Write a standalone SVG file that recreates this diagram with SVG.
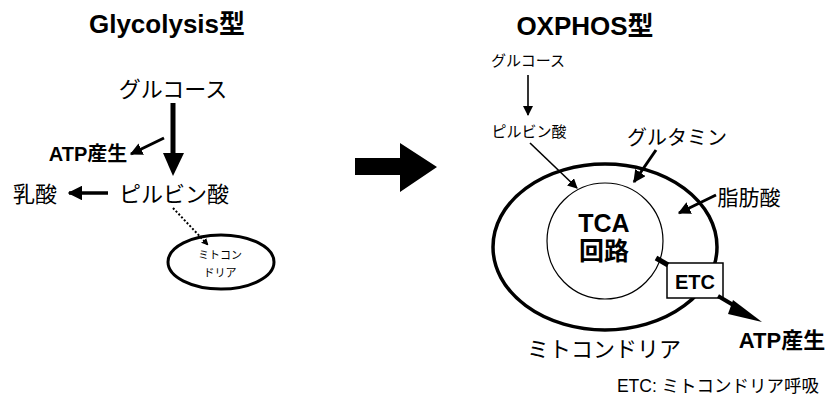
<svg xmlns="http://www.w3.org/2000/svg" width="833" height="397" viewBox="0 0 833 397">
<style>
text{font-family:"Liberation Sans","Noto Sans CJK JP",sans-serif;fill:#000}
.b{font-weight:bold}
.ln{stroke:#000;fill:none}
</style>
<defs>
<marker id="ah" viewBox="0 0 10 10" refX="9" refY="5" markerWidth="4.2" markerHeight="4.2" markerUnits="strokeWidth" orient="auto"><path d="M0,0 L10,5 L0,10 z" fill="#000"/></marker>
<marker id="ahs" viewBox="0 0 10 10" refX="9" refY="5" markerWidth="7" markerHeight="7" markerUnits="userSpaceOnUse" orient="auto"><path d="M0,0 L10,5 L0,10 z" fill="#000"/></marker>
<marker id="ahm" viewBox="0 0 10 10" refX="9" refY="5" markerWidth="10" markerHeight="10" markerUnits="userSpaceOnUse" orient="auto"><path d="M0,0 L10,5 L0,10 z" fill="#000"/></marker>
</defs>
<rect width="833" height="397" fill="#fff"/>

<g id="titles">
<text class="b" x="167" y="33" font-size="26" text-anchor="middle">Glycolysis型</text>
<text class="b" x="585" y="35" font-size="26" text-anchor="middle">OXPHOS型</text>
</g>

<g id="left-glucose"><text x="173" y="97" font-size="22" text-anchor="middle">グルコース</text></g>
<g id="left-atp"><text class="b" x="88" y="161" font-size="20" text-anchor="middle">ATP産生</text></g>
<g id="left-pyruvate"><text x="174" y="202" font-size="22" text-anchor="middle">ピルビン酸</text></g>
<g id="left-lactate"><text x="35" y="202" font-size="22" text-anchor="middle">乳酸</text></g>
<g id="left-mito">
<ellipse cx="221" cy="262" rx="53" ry="27" class="ln" stroke-width="3"/>
<text x="220" y="259" font-size="11" text-anchor="middle">ミトコン</text>
<text x="220" y="277" font-size="11" text-anchor="middle">ドリア</text>
</g>

<g id="mid-arrow"><path d="M355,158 H400 V143 L437,167 L400,192 V175 H355 z" fill="#000"/></g>

<g id="right-glucose"><text x="528" y="66" font-size="15" text-anchor="middle">グルコース</text></g>
<g id="right-pyruvate"><text x="529" y="137" font-size="15" text-anchor="middle">ピルビン酸</text></g>
<g id="glutamine"><text x="677" y="145" font-size="20" text-anchor="middle">グルタミン</text></g>
<g id="fatty"><text x="749" y="205" font-size="21" text-anchor="middle">脂肪酸</text></g>
<g id="mito">
<ellipse cx="605" cy="247" rx="112" ry="83" class="ln" stroke-width="3.5"/>
<text x="604" y="357" font-size="22" text-anchor="middle">ミトコンドリア</text>
</g>
<g id="tca">
<circle cx="605" cy="241" r="58" class="ln" stroke-width="1.2"/>
<text class="b" x="604" y="232" font-size="25" text-anchor="middle">TCA</text>
<text class="b" x="604" y="260" font-size="25" text-anchor="middle">回路</text>
</g>
<g id="etc">
<rect x="667" y="263" width="56" height="35" fill="#fff" stroke="#000" stroke-width="1.5"/>
<text class="b" x="695" y="289" font-size="20" text-anchor="middle">ETC</text>
</g>
<g id="right-atp"><text class="b" x="782" y="348" font-size="22" text-anchor="middle">ATP産生</text></g>
<g id="legend"><text x="718" y="392" font-size="17.5" text-anchor="middle">ETC: ミトコンドリア呼吸</text></g>

<g id="connectors">
<line x1="173" y1="103" x2="173" y2="155" stroke="#000" stroke-width="5"/>
<path d="M163,153 L184,153 L173,176 z" fill="#000"/>
<line x1="164" y1="138" x2="131" y2="154" stroke="#000" stroke-width="3" marker-end="url(#ah)"/>
<line x1="108" y1="193" x2="69" y2="193" stroke="#000" stroke-width="3.5" marker-end="url(#ah)"/>
<line x1="173" y1="208" x2="208" y2="245" stroke="#000" stroke-width="2" stroke-dasharray="2,2" marker-end="url(#ahs)"/>
<line x1="528" y1="75" x2="528" y2="115" stroke="#000" stroke-width="1.6" marker-end="url(#ahm)"/>
<line x1="530" y1="143" x2="577" y2="188" stroke="#000" stroke-width="1.6" marker-end="url(#ahm)"/>
<line x1="656" y1="150" x2="634" y2="182" stroke="#000" stroke-width="3" marker-end="url(#ah)"/>
<line x1="716" y1="195" x2="679" y2="213" stroke="#000" stroke-width="3" marker-end="url(#ah)"/>
<line x1="668" y1="265" x2="656" y2="258" stroke="#000" stroke-width="5"/>
<line x1="718" y1="296" x2="740" y2="309" stroke="#000" stroke-width="4"/>
<path d="M733,300 L762,322 L728,314 z" fill="#000"/>
</g>
</svg>
